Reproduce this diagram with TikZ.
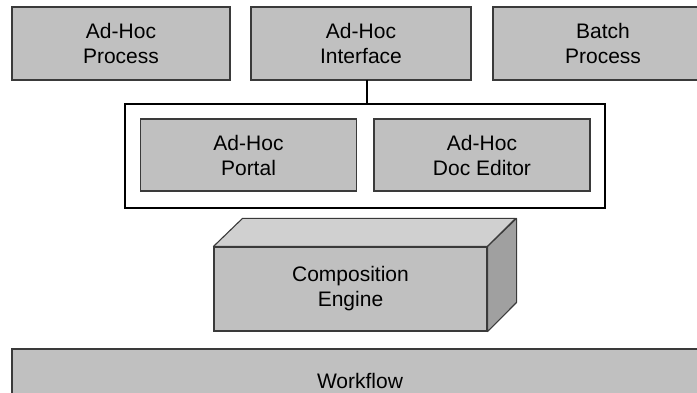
\documentclass[tikz,border=0pt]{standalone}
\usepackage{fontspec}
\setmainfont{Liberation Sans}
\definecolor{boxfill}{HTML}{C0C0C0}
\definecolor{boxedge}{HTML}{3A3A3A}
\definecolor{topface}{HTML}{D0D0D0}
\definecolor{sideface}{HTML}{A0A0A0}
\begin{document}
\begin{tikzpicture}[x=1pt,y=-1pt,
  box/.style={draw=boxedge, fill=boxfill, line width=1.1pt, rectangle,
    align=center, inner sep=0pt,
    font=\fontsize{21}{25}\selectfont},
  frame/.style={draw=black, line width=1.6pt, rectangle, inner sep=0pt},
  link/.style={draw=black, line width=1.6pt}]
\useasboundingbox (0,0) rectangle (697,393);
\clip (0,0) rectangle (697,393);

% top row of clients
\node[box, minimum width=218pt, minimum height=73pt] (proc)  at (121,43.5) {Ad-Hoc\\Process};
\node[box, minimum width=220pt, minimum height=73pt] (iface) at (361,43.5) {Ad-Hoc\\Interface};
\node[box, minimum width=220pt, minimum height=73pt] (batch) at (603,43.5) {Batch\\Process};

% ad-hoc container with its two components
\node[frame, minimum width=480pt, minimum height=104pt] (cont) at (365,156) {};
\node[box, minimum width=216pt, minimum height=72pt] (portal) at (248.5,155) {Ad-Hoc\\Portal};
\node[box, minimum width=216pt, minimum height=72pt] (editor) at (482,155) {Ad-Hoc\\Doc Editor};

\coordinate (ifacefoot) at (367,80);
\draw[link] (ifacefoot) -- (ifacefoot |- cont.north);

% composition engine drawn as a block
\node[box, minimum width=273pt, minimum height=84pt] (engine) at (350.5,289) {Composition\\Engine};
\draw[draw=boxedge, fill=topface, line width=1.1pt, line join=round]
  (engine.north west) -- ++(29,-28) -- ++(273,0) -- (engine.north east) -- cycle;
\draw[draw=boxedge, fill=sideface, line width=1.1pt, line join=round]
  (engine.north east) -- ++(29,-28) -- ++(0,84) -- (engine.south east) -- cycle;

% workflow layer
\node[box, minimum width=696pt, minimum height=64pt] (flow) at (360,381) {Workflow};
\end{tikzpicture}
\end{document}
